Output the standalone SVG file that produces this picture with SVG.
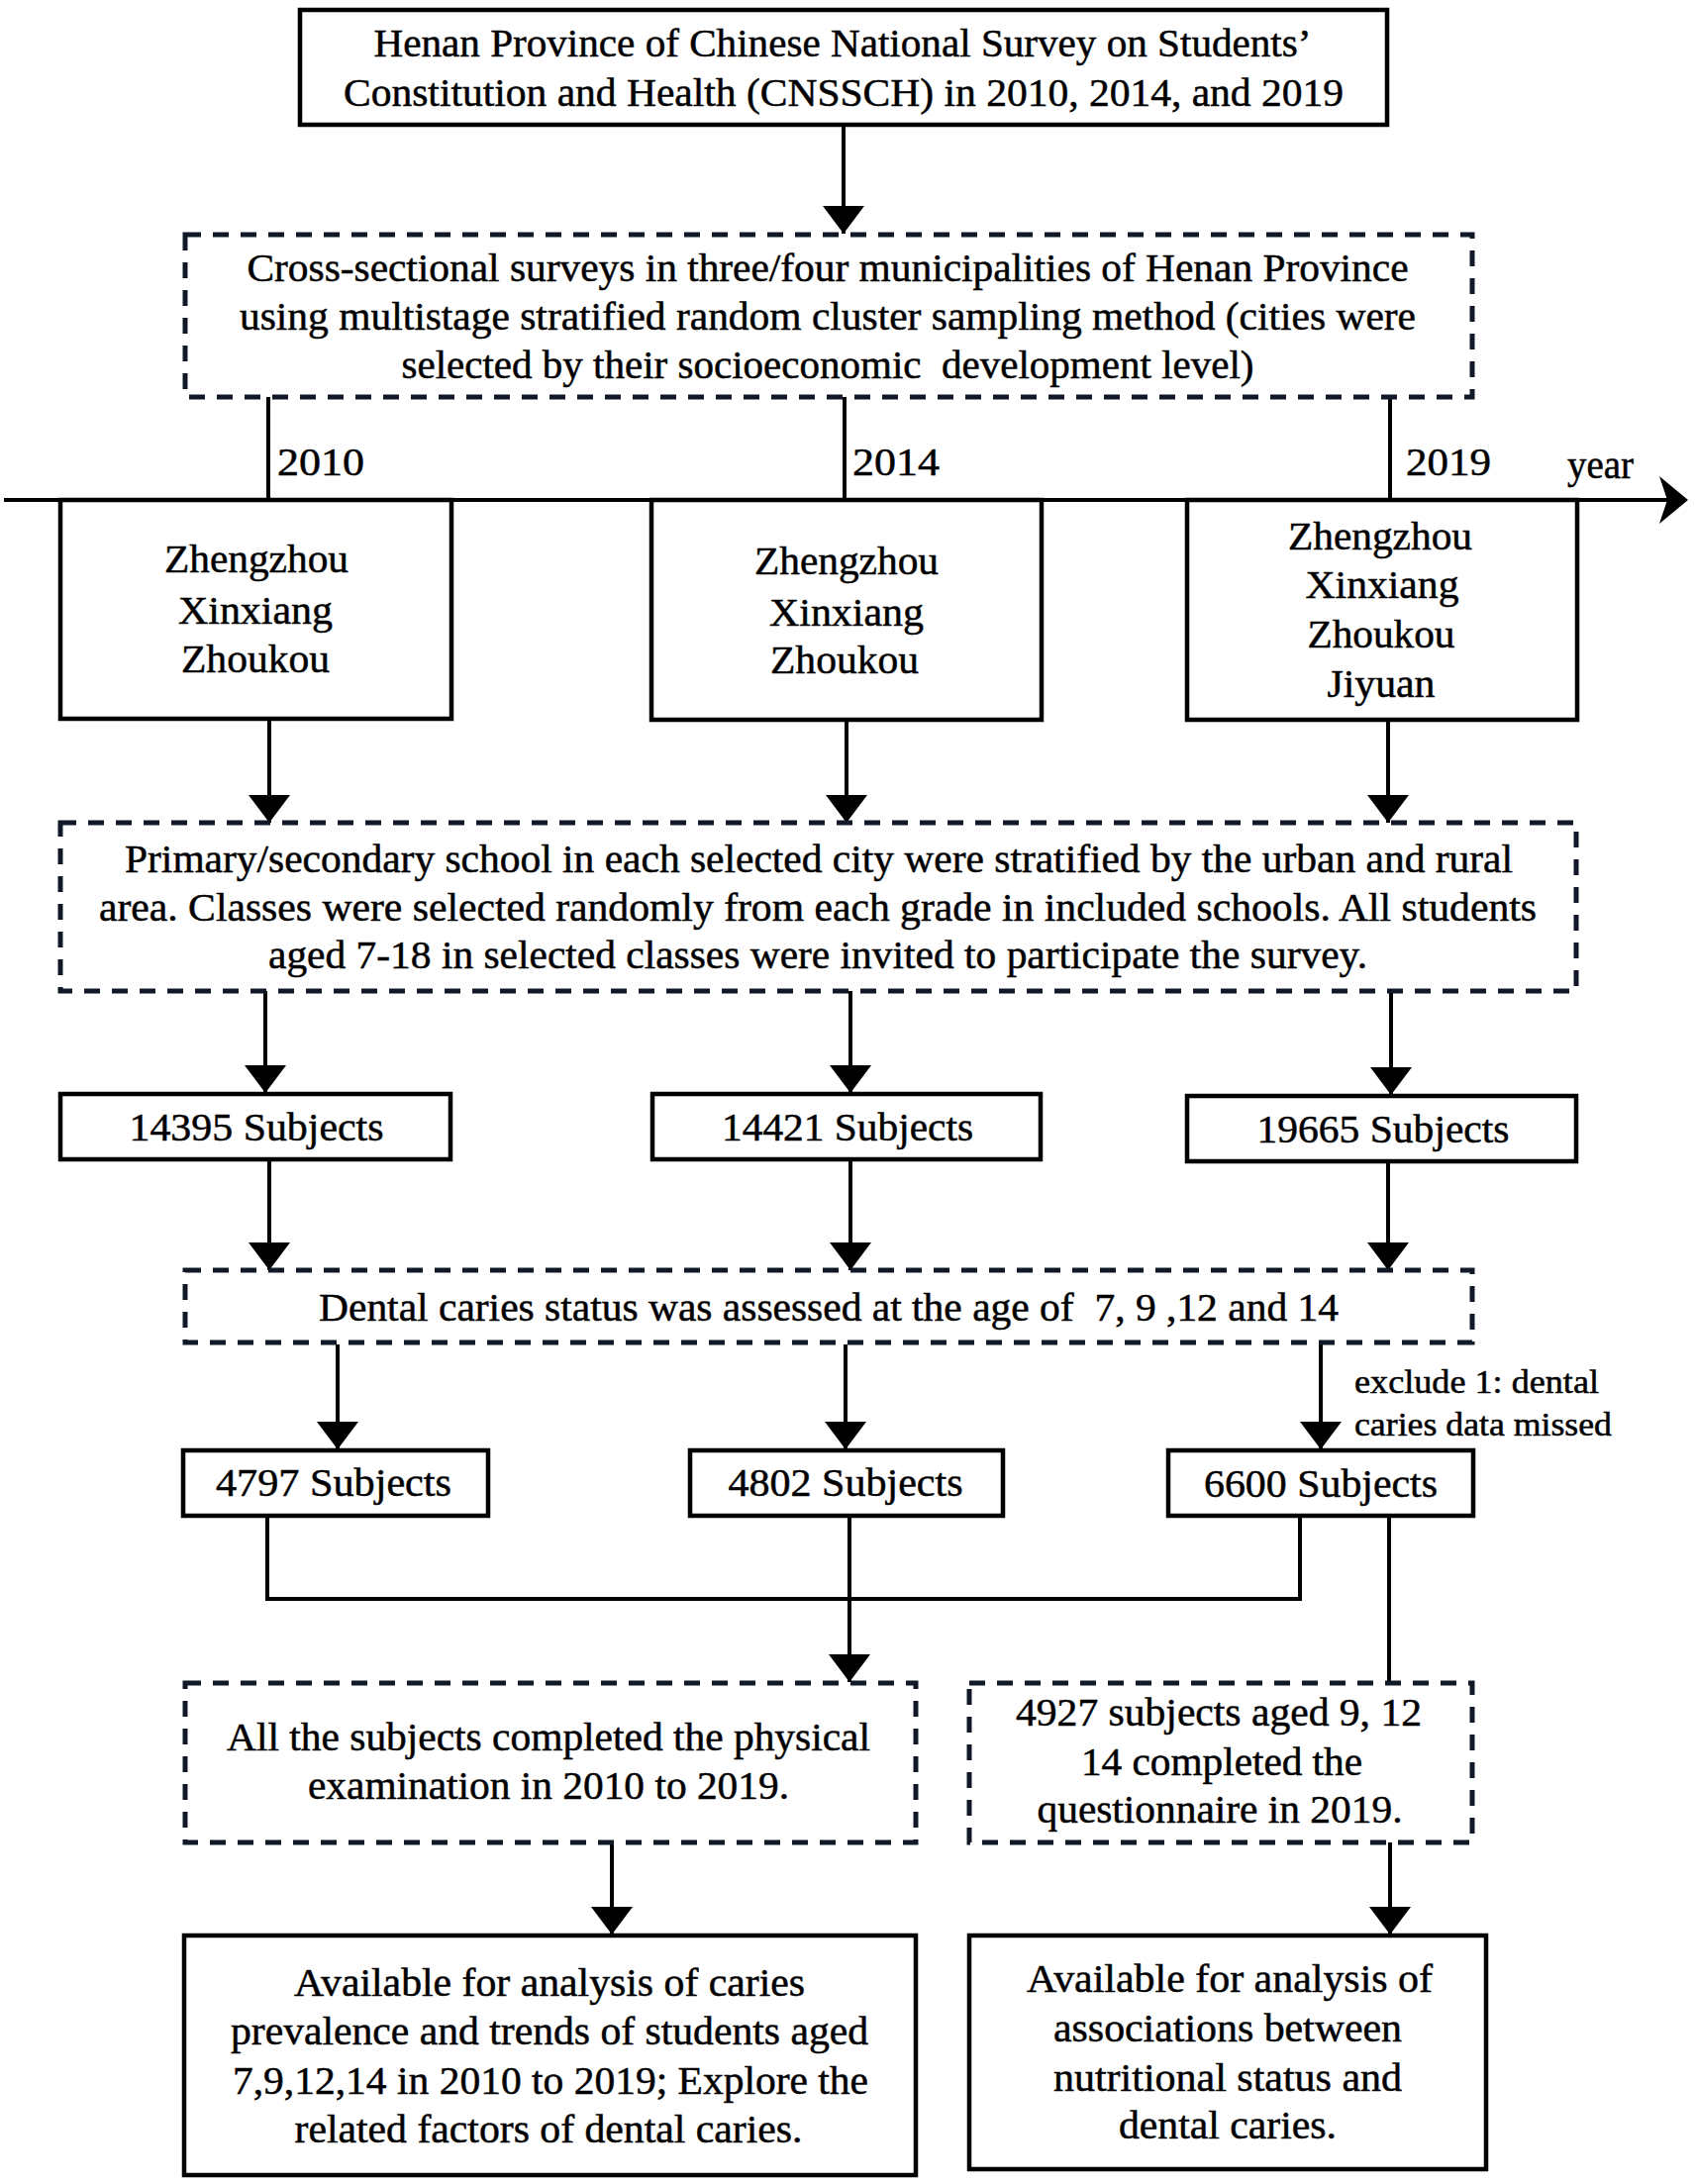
<svg xmlns="http://www.w3.org/2000/svg" width="1712" height="2206" viewBox="0 0 1712 2206" font-family="Liberation Serif, serif">
<style>
text{font-family:'Liberation Serif',serif;font-size:40px;fill:#000;stroke:#000;stroke-width:0.5;text-anchor:middle;white-space:pre}
.solid{fill:#fff;stroke:#000;stroke-width:4.5}
.dash{fill:#fff;stroke:#111827;stroke-width:5;stroke-dasharray:16 12}
.ln{fill:none;stroke:#000;stroke-width:4}
text.lbl{font-size:33px;text-anchor:start}
text.yr{text-anchor:start}
</style>
<defs>
<marker id="ah" markerUnits="userSpaceOnUse" markerWidth="28" markerHeight="42" refX="28" refY="21" orient="auto">
<path d="M0,0 L28,21 L0,42 Z" fill="#000"/>
</marker>
</defs>
<rect width="1712" height="2206" fill="#fff"/>

<g id="connectors">
<line class="ln" x1="852" y1="126" x2="852" y2="236" marker-end="url(#ah)"/>
<line class="ln" x1="271" y1="401" x2="271" y2="505"/>
<line class="ln" x1="853" y1="401" x2="853" y2="505"/>
<line class="ln" x1="1404" y1="401" x2="1404" y2="505"/>
<line class="ln" x1="4" y1="505" x2="1692" y2="505"/>
<polygon points="1705,505 1676,481 1684,505 1676,529" fill="#000"/>
<line class="ln" x1="272" y1="727" x2="272" y2="831" marker-end="url(#ah)"/>
<line class="ln" x1="855" y1="727" x2="855" y2="831" marker-end="url(#ah)"/>
<line class="ln" x1="1402" y1="727" x2="1402" y2="831" marker-end="url(#ah)"/>
<line class="ln" x1="268" y1="1001" x2="268" y2="1104" marker-end="url(#ah)"/>
<line class="ln" x1="859" y1="1001" x2="859" y2="1104" marker-end="url(#ah)"/>
<line class="ln" x1="1405" y1="1001" x2="1405" y2="1106" marker-end="url(#ah)"/>
<line class="ln" x1="272" y1="1171" x2="272" y2="1283" marker-end="url(#ah)"/>
<line class="ln" x1="859" y1="1171" x2="859" y2="1283" marker-end="url(#ah)"/>
<line class="ln" x1="1402" y1="1173" x2="1402" y2="1283" marker-end="url(#ah)"/>
<line class="ln" x1="341" y1="1358" x2="341" y2="1464" marker-end="url(#ah)"/>
<line class="ln" x1="854" y1="1358" x2="854" y2="1464" marker-end="url(#ah)"/>
<line class="ln" x1="1334" y1="1356" x2="1334" y2="1464" marker-end="url(#ah)"/>
<polyline class="ln" points="270,1531 270,1615 1313,1615 1313,1531"/>
<line class="ln" x1="858" y1="1531" x2="858" y2="1699" marker-end="url(#ah)"/>
<line class="ln" x1="1403" y1="1531" x2="1403" y2="1700"/>
<line class="ln" x1="618" y1="1861" x2="618" y2="1954" marker-end="url(#ah)"/>
<line class="ln" x1="1404" y1="1861" x2="1404" y2="1954" marker-end="url(#ah)"/>
</g>

<g id="years">
<text class="yr" x="280" y="480" textLength="88" lengthAdjust="spacingAndGlyphs">2010</text>
<text class="yr" x="861" y="480" textLength="88" lengthAdjust="spacingAndGlyphs">2014</text>
<text class="yr" x="1420" y="480" textLength="86" lengthAdjust="spacingAndGlyphs">2019</text>
<text class="yr" x="1583" y="483" textLength="67" lengthAdjust="spacingAndGlyphs">year</text>
</g>

<g id="n_source">
<rect class="solid" x="303" y="10" width="1098" height="116"/>
<text x="851" y="57" textLength="947" lengthAdjust="spacingAndGlyphs">Henan Province of Chinese National Survey on Students’</text>
<text x="852" y="107" textLength="1010" lengthAdjust="spacingAndGlyphs">Constitution and Health (CNSSCH) in 2010, 2014, and 2019</text>
</g>

<g id="n_cross">
<rect class="dash" x="187" y="237" width="1300" height="164"/>
<text x="836" y="284" textLength="1173" lengthAdjust="spacingAndGlyphs">Cross-sectional surveys in three/four municipalities of Henan Province</text>
<text x="836" y="333" textLength="1188" lengthAdjust="spacingAndGlyphs">using multistage stratified random cluster sampling method (cities were</text>
<text x="836" y="382" textLength="861" lengthAdjust="spacingAndGlyphs">selected by their socioeconomic  development level)</text>
</g>

<g id="n_city2010">
<rect class="solid" x="61" y="505" width="395" height="221"/>
<text x="259" y="578" textLength="186" lengthAdjust="spacingAndGlyphs">Zhengzhou</text>
<text x="258" y="630" textLength="156" lengthAdjust="spacingAndGlyphs">Xinxiang</text>
<text x="258" y="679" textLength="150" lengthAdjust="spacingAndGlyphs">Zhoukou</text>
</g>
<g id="n_city2014">
<rect class="solid" x="658" y="505" width="394" height="222"/>
<text x="855" y="580" textLength="186" lengthAdjust="spacingAndGlyphs">Zhengzhou</text>
<text x="855" y="632" textLength="156" lengthAdjust="spacingAndGlyphs">Xinxiang</text>
<text x="853" y="680" textLength="150" lengthAdjust="spacingAndGlyphs">Zhoukou</text>
</g>
<g id="n_city2019">
<rect class="solid" x="1199" y="505" width="394" height="222"/>
<text x="1394" y="555" textLength="186" lengthAdjust="spacingAndGlyphs">Zhengzhou</text>
<text x="1396" y="604" textLength="155" lengthAdjust="spacingAndGlyphs">Xinxiang</text>
<text x="1395" y="654" textLength="149" lengthAdjust="spacingAndGlyphs">Zhoukou</text>
<text x="1395" y="704" textLength="109" lengthAdjust="spacingAndGlyphs">Jiyuan</text>
</g>

<g id="n_school">
<rect class="dash" x="61" y="831" width="1531" height="170"/>
<text x="827" y="881" textLength="1402" lengthAdjust="spacingAndGlyphs">Primary/secondary school in each selected city were stratified by the urban and rural</text>
<text x="826" y="930" textLength="1452" lengthAdjust="spacingAndGlyphs">area. Classes were selected randomly from each grade in included schools. All students</text>
<text x="826" y="978" textLength="1110" lengthAdjust="spacingAndGlyphs">aged 7-18 in selected classes were invited to participate the survey.</text>
</g>

<g id="n_s2010">
<rect class="solid" x="61" y="1105" width="394" height="66"/>
<text x="259" y="1152" textLength="257" lengthAdjust="spacingAndGlyphs">14395 Subjects</text>
</g>
<g id="n_s2014">
<rect class="solid" x="659" y="1105" width="392" height="66"/>
<text x="856" y="1152" textLength="254" lengthAdjust="spacingAndGlyphs">14421 Subjects</text>
</g>
<g id="n_s2019">
<rect class="solid" x="1199" y="1107" width="393" height="66"/>
<text x="1397" y="1154" textLength="255" lengthAdjust="spacingAndGlyphs">19665 Subjects</text>
</g>

<g id="n_dental">
<rect class="dash" x="187" y="1283" width="1300" height="73"/>
<text x="837" y="1334" textLength="1030" lengthAdjust="spacingAndGlyphs">Dental caries status was assessed at the age of  7, 9 ,12 and 14</text>
</g>

<g id="exclude_label">
<text class="lbl" x="1368" y="1407" textLength="247" lengthAdjust="spacingAndGlyphs">exclude 1: dental</text>
<text class="lbl" x="1368" y="1450" textLength="260" lengthAdjust="spacingAndGlyphs">caries data missed</text>
</g>

<g id="n_d2010">
<rect class="solid" x="185" y="1465" width="308" height="66"/>
<text x="337" y="1511" textLength="238" lengthAdjust="spacingAndGlyphs">4797 Subjects</text>
</g>
<g id="n_d2014">
<rect class="solid" x="697" y="1465" width="316" height="66"/>
<text x="854" y="1511" textLength="237" lengthAdjust="spacingAndGlyphs">4802 Subjects</text>
</g>
<g id="n_d2019">
<rect class="solid" x="1180" y="1465" width="308" height="66"/>
<text x="1334" y="1512" textLength="236" lengthAdjust="spacingAndGlyphs">6600 Subjects</text>
</g>

<g id="n_physical">
<rect class="dash" x="187" y="1700" width="738" height="161"/>
<text x="554" y="1768" textLength="650" lengthAdjust="spacingAndGlyphs">All the subjects completed the physical</text>
<text x="554" y="1817" textLength="486" lengthAdjust="spacingAndGlyphs">examination in 2010 to 2019.</text>
</g>

<g id="n_questionnaire">
<rect class="dash" x="979" y="1700" width="508" height="161"/>
<text x="1231" y="1743" textLength="410" lengthAdjust="spacingAndGlyphs">4927 subjects aged 9, 12</text>
<text x="1234" y="1793" textLength="284" lengthAdjust="spacingAndGlyphs">14 completed the</text>
<text x="1232" y="1841" textLength="369" lengthAdjust="spacingAndGlyphs">questionnaire in 2019.</text>
</g>

<g id="n_analysisA">
<rect class="solid" x="186" y="1955" width="739" height="242"/>
<text x="555" y="2016" textLength="516" lengthAdjust="spacingAndGlyphs">Available for analysis of caries</text>
<text x="555" y="2065" textLength="644" lengthAdjust="spacingAndGlyphs">prevalence and trends of students aged</text>
<text x="556" y="2115" textLength="642" lengthAdjust="spacingAndGlyphs">7,9,12,14 in 2010 to 2019; Explore the</text>
<text x="554" y="2164" textLength="513" lengthAdjust="spacingAndGlyphs">related factors of dental caries.</text>
</g>

<g id="n_analysisB">
<rect class="solid" x="979" y="1955" width="522" height="236"/>
<text x="1242" y="2012" textLength="410" lengthAdjust="spacingAndGlyphs">Available for analysis of</text>
<text x="1240" y="2062" textLength="352" lengthAdjust="spacingAndGlyphs">associations between</text>
<text x="1240" y="2112" textLength="352" lengthAdjust="spacingAndGlyphs">nutritional status and</text>
<text x="1240" y="2160" textLength="220" lengthAdjust="spacingAndGlyphs">dental caries.</text>
</g>
</svg>
